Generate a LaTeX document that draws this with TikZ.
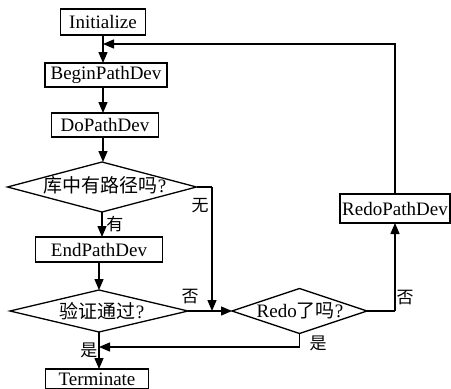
\documentclass[tikz,border=0pt]{standalone}
\usepackage{fontspec}
\setmainfont{Liberation Serif}
\newfontfamily\cjk{Noto Sans CJK SC}
\usetikzlibrary{arrows.meta,shapes.geometric}
\begin{document}
\begin{tikzpicture}[x=1pt,y=-1pt, line width=1.3pt,
  box/.style={draw, rectangle, inner sep=0pt, outer sep=0pt, font=\fontsize{19}{21}\selectfont},
  dia/.style={draw, diamond, inner sep=0pt, outer sep=0pt},
  lbl/.style={font=\fontsize{19}{21}\selectfont, inner sep=0pt},
  clab/.style={font=\cjk\fontsize{17}{19}\selectfont, inner sep=0pt},
  arr/.style={-{Triangle[length=11pt,width=9pt]}}]
\useasboundingbox (0,0) rectangle (451,389);
\clip (0,0) rectangle (451,389);

\node[box, minimum width=85pt, minimum height=26pt] (init) at (103,22) {Initialize};
\node[box, minimum width=122pt, minimum height=24pt] (begin) at (106,75) {BeginPathDev};
\node[box, minimum width=107pt, minimum height=24pt] (dopath) at (105,125) {DoPathDev};
\node[dia, minimum width=189pt, minimum height=50pt] (d1) at (102,187) {};
\node[lbl] (d1t) at (105,185) {{\cjk 库中有路径吗}?};
\node[box, minimum width=127pt, minimum height=25pt] (endpath) at (99,249.5) {EndPathDev};
\node[dia, minimum width=178pt, minimum height=42pt] (d2) at (99,311) {};
\node[lbl] (d2t) at (102,311) {{\cjk 验证通过}?};
\node[dia, minimum width=135pt, minimum height=45pt] (redo) at (299.5,311) {};
\node[lbl] (redot) at (300,311) {Redo{\cjk 了吗}?};
\node[box, minimum width=110pt, minimum height=29pt] (redopath) at (395,208.5) {RedoPathDev};
\node[box, minimum width=103pt, minimum height=20pt] (term) at (97,379) {Terminate};

\coordinate (fb) at (103,44);
\coordinate (c1) at (212,187);
\coordinate (c2) at (212,311);
\coordinate (c3) at (395,311);
\coordinate (c4) at (299.5,347);
\coordinate (c5) at (99,347);

\draw[arr] (init.south) -- (init.south |- begin.north);
\draw[arr] (103,87) -- (103,113);
\draw[arr] (103,137) -- (d1.north -| 103,0);
\draw[arr] (d1.south) -- (d1.south |- endpath.north);
\draw[arr] (99,262) -- (d2.north);
\draw[arr] (d2.south) -- (d2.south |- term.north);
\draw (d1.east) -- (c1);
\draw[arr] (c1) -- (c2);
\draw[arr] (d2.east) -- (redo.west);
\draw (redo.east) -- (c3);
\draw[arr] (c3) -- (redopath.south);
\draw[arr] (redopath.north) |- (fb);
\draw (redo.south) -- (c4);
\draw[arr] (c4) -- (c5);

\node[clab] (l1) at (115,224) {有};
\node[clab] (l2) at (200,206) {无};
\node[clab] (l3) at (190,297) {否};
\node[clab] (l4) at (405,298) {否};
\node[clab] (l5) at (318,343) {是};
\node[clab] (l6) at (89,350) {是};
\end{tikzpicture}
\end{document}
